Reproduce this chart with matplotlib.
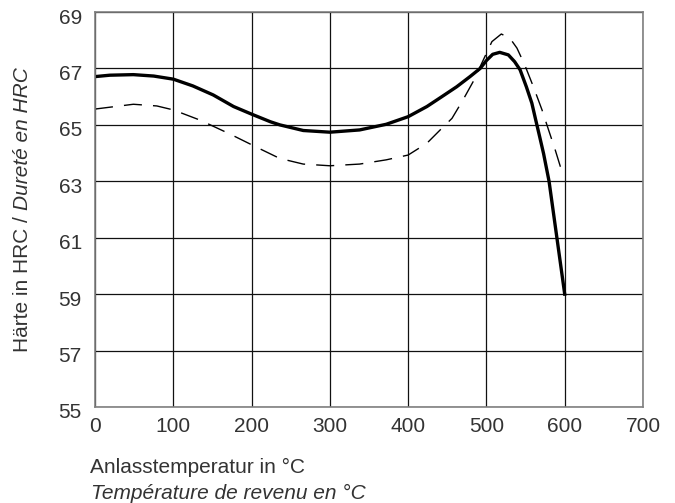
import matplotlib
matplotlib.use('Agg')
import matplotlib.pyplot as plt
import matplotlib.transforms as mtransforms

# readings
temp_solid = [0, 19, 49, 75, 100, 125, 151, 177, 200, 224, 236, 266, 300, 338, 372, 400,
              424, 442, 462, 479, 492, 500, 508, 517, 528, 536, 543, 551, 558, 563, 568,
              573, 580, 590, 600]
hrc_solid = [66.71, 66.76, 66.78, 66.73, 66.62, 66.38, 66.06, 65.65, 65.38, 65.11, 65.0,
             64.8, 64.74, 64.82, 65.02, 65.29, 65.65, 65.98, 66.35, 66.71, 67.0, 67.28,
             67.5, 67.57, 67.48, 67.24, 66.95, 66.35, 65.77, 65.17, 64.58, 63.98, 63.0,
             61.0, 59.0]

temp_dash = [0, 49, 79, 100, 134, 172, 207, 236, 266, 300, 338, 372, 400, 424, 442, 456,
             470, 483, 496, 507, 519, 530, 539, 549, 560, 571, 577, 588, 598]
hrc_dash = [65.56, 65.73, 65.67, 65.53, 65.17, 64.68, 64.2, 63.81, 63.61, 63.55, 63.61,
            63.76, 63.93, 64.35, 64.85, 65.23, 65.88, 66.53, 67.3, 67.95, 68.22, 68.07,
            67.72, 67.12, 66.35, 65.53, 65.02, 64.1, 63.2]

xticks = [0, 100, 200, 300, 400, 500, 600, 700]
yticks = [55, 57, 59, 61, 63, 65, 67, 69]

plt.rcParams['font.family'] = ['Liberation Sans', 'DejaVu Sans']
txt_col = '#333333'

fig = plt.figure(figsize=(6.75, 5.03), dpi=100)
ax = fig.add_axes([95/675, 1 - 407/503, 548/675, 395/503])

ax.plot(temp_dash, hrc_dash, color='black', lw=1.0, dashes=(13, 8))
ax.plot(temp_solid, hrc_solid, color='black', lw=2.4, solid_joinstyle='round')

ax.set_xlim(0, 700)
ax.set_ylim(55, 69)
ax.set_xticks(xticks)
ax.set_yticks(yticks)
ax.grid(True, color='#111111', lw=0.9)
ax.set_axisbelow(True)
for s in ax.spines.values():
    s.set_color('#808080')
    s.set_linewidth(1.2)
ax.tick_params(length=0, labelsize=15, colors=txt_col)
ax.tick_params(axis='x', pad=7.5)
ax.tick_params(axis='y', pad=9.5)
off = mtransforms.ScaledTranslation(0, -4/100, fig.dpi_scale_trans)
for lb in ax.get_yticklabels():
    lb.set_transform(lb.get_transform() + off)

# x axis label, two lines
fig.text(90/675, 1 - 472.7/503, 'Anlasstemperatur in °C', fontsize=15, color=txt_col,
         ha='left', va='baseline')
fig.text(91/675, 1 - 499/503, 'Température de revenu en °C', fontsize=15, color=txt_col,
         ha='left', va='baseline', style='italic')

# y axis label, normal + italic parts
fig.text(28/675, 1 - 216/503, 'Härte in HRC /', fontsize=15, color=txt_col, rotation=90,
         rotation_mode='anchor', ha='right', va='baseline')
fig.text(28/675, 1 - 210/503, 'Dureté en HRC', fontsize=15, color=txt_col, rotation=90,
         rotation_mode='anchor', ha='left', va='baseline', style='italic')

fig.savefig('out.png', dpi=100)
